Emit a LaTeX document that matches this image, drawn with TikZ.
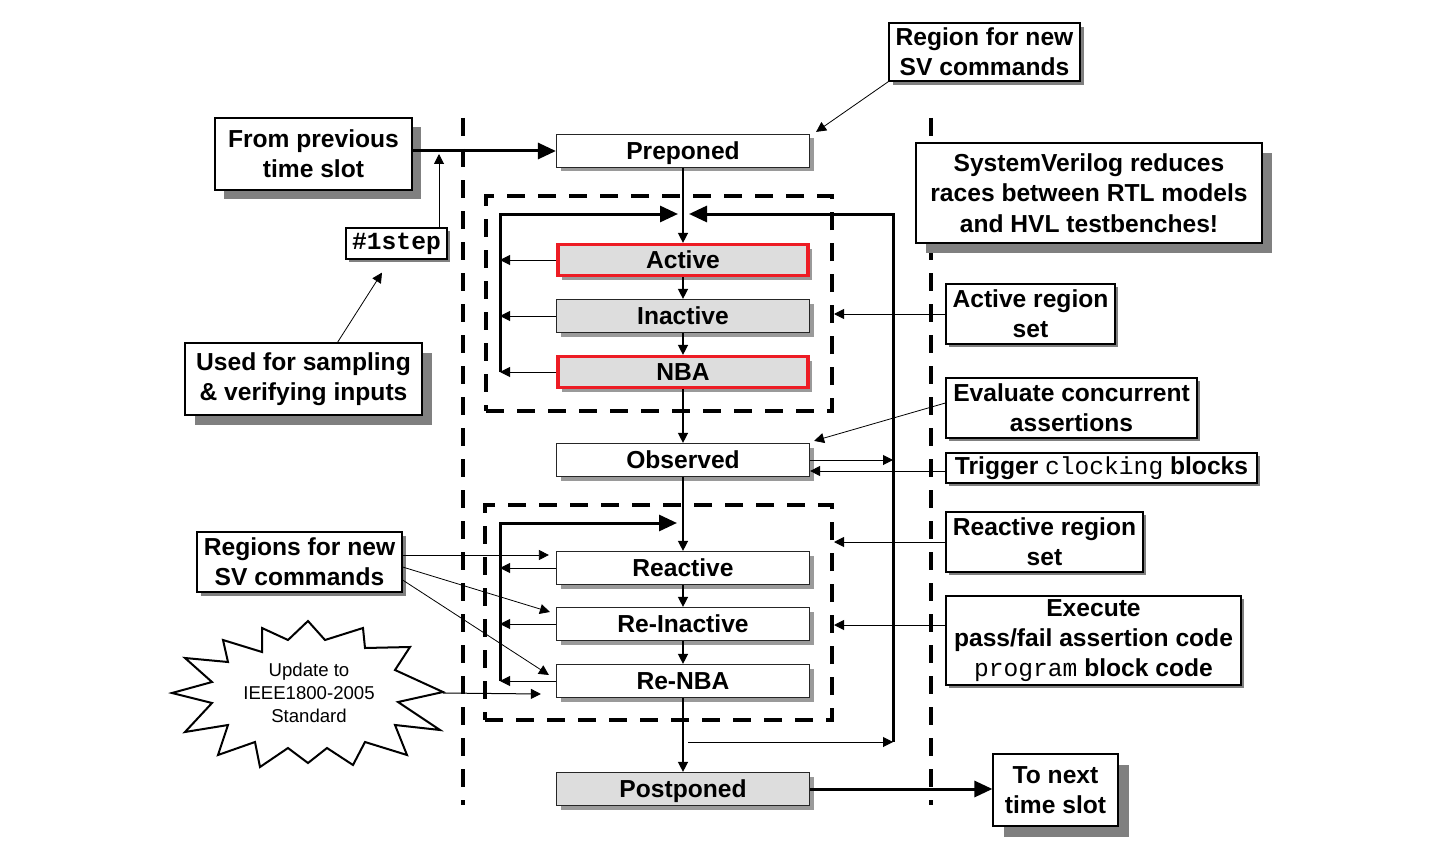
\documentclass[tikz,border=0pt]{standalone}
\usepackage{fontspec}
\setmainfont{Liberation Sans}
\setmonofont{Liberation Mono}
\usetikzlibrary{arrows.meta,shadows,calc}
\definecolor{boxred}{HTML}{ED1C24}
\definecolor{boxgray}{HTML}{DDDDDD}
\definecolor{shdark}{HTML}{808080}
\definecolor{shlight}{HTML}{9A9A9A}
\begin{document}
\begin{tikzpicture}[x=0.5pt,y=-0.5pt,
  font=\fontsize{12.3}{15.2}\selectfont\bfseries,
  sh/.style={drop shadow={shadow xshift=#1,shadow yshift=-#1,fill=shdark,opacity=1}},
  shm/.style={drop shadow={shadow xshift=2pt,shadow yshift=-2pt,fill=shlight,opacity=1}},
  mainbox/.style={draw=black!85, line width=0.6pt, minimum width=126.5pt, minimum height=16.5pt, inner sep=0pt, text depth=0pt, shm},
  mainw/.style={mainbox, fill=white},
  maing/.style={mainbox, fill=boxgray},
  mainr/.style={mainbox, fill=boxgray, draw=boxred, line width=1.6pt, minimum width=125pt, minimum height=15.5pt},
  note/.style={draw=black, line width=0.6pt, fill=white, inner sep=0pt, align=center},
  bigdash/.style={line width=2pt, dash pattern=on 9pt off 6.5pt},
  flow/.style={line width=0.7pt, -{Triangle[length=5pt,width=5pt]}},
  thinarrow/.style={line width=0.5pt, -{Triangle[length=5pt,width=5pt]}},
  hair/.style={line width=0.4pt, -{Triangle[length=5pt,width=5pt]}},
  big/.style={line width=1.5pt, -{Triangle[length=9pt,width=8pt]}}
]
\useasboundingbox (0,0) rectangle (1446,856);

% outer dashed time-slot lines
\draw[bigdash] (463,118) -- (463,805);
\draw[bigdash] (931,118) -- (931,805);

% inner dashed region sets
\node[draw, bigdash, minimum width=173pt, minimum height=107.5pt, inner sep=0pt] (ar) at (659,303.5) {};
\node[draw, bigdash, minimum width=173.5pt, minimum height=107.5pt, inner sep=0pt] (rr) at (658.5,612.5) {};

% main region boxes
\node[mainw] (pre) at (683,151) {Preponed};
\node[mainr] (act) at (683,260) {Active};
\node[maing] (inact) at (683,316) {Inactive};
\node[mainr] (nba) at (683,372) {NBA};
\node[mainw] (obs) at (683,460) {Observed};
\node[mainw] (react) at (683,568) {Reactive};
\node[mainw] (reinact) at (683,624) {Re-Inactive};
\node[mainw] (renba) at (683,681) {Re-NBA};
\node[maing] (post) at (683,789) {Postponed};

% comment boxes
\node[note, minimum width=98.5pt, minimum height=36pt, sh=4.5pt] (from) at (313.5,154) {From previous\\time slot};
\node[note, minimum width=50.5pt, minimum height=15.5pt, sh=1.5pt] (step) at (396.5,243.5) {\ttfamily\#1step};
\node[note, minimum width=118.5pt, minimum height=36pt, sh=5pt] (used) at (303.5,379) {Used for sampling\\\&\ verifying inputs};
\node[note, minimum width=95.5pt, minimum height=29pt, sh=2pt] (regtop) at (984.5,52) {Region for new\\SV commands};
\node[note, minimum width=173pt, minimum height=50pt, sh=5pt] (sysv) at (1089,193) {SystemVerilog reduces\\races between RTL models\\and HVL testbenches!};
\node[note, minimum width=84.5pt, minimum height=30pt, sh=1.5pt] (actset) at (1030.5,314) {Active region\\set};
\node[note, minimum width=125.5pt, minimum height=30pt, sh=1.5pt] (eval) at (1071.5,408) {Evaluate concurrent\\assertions};
\node[note, minimum width=155.5pt, minimum height=15pt, sh=1.5pt] (trig) at (1101.5,468) {Trigger {\mdseries\ttfamily clocking} blocks};
\node[note, minimum width=98.5pt, minimum height=30pt, sh=1.5pt] (reactset) at (1044.5,542) {Reactive region\\set};
\node[note, minimum width=147.5pt, minimum height=44.5pt, sh=1.5pt] (exec) at (1093.5,640.5) {Execute\\pass/fail assertion code\\{\mdseries\ttfamily program} block code};
\node[note, minimum width=102.5pt, minimum height=30pt, sh=2pt] (regs) at (299.5,562) {Regions for new\\SV commands};
\node[note, minimum width=62.5pt, minimum height=36pt, sh=5.5pt] (next) at (1055.5,790) {To next\\time slot};

% starburst
\draw[line width=1pt, fill=white, line join=miter]
  (308,621) -- (325,640) -- (363,628) -- (365,648) -- (410,647) -- (395,670)
  -- (443,692) -- (398,702) -- (440,730) -- (395,725) -- (407,755) -- (365,742)
  -- (353,765) -- (327,748) -- (308,763) -- (288,748) -- (260,767) -- (255,742)
  -- (218,755) -- (228,725) -- (185,732) -- (212,703) -- (172,693) -- (212,682)
  -- (185,658) -- (228,662) -- (223,640) -- (262,652) -- (262,628) -- (288,640) -- cycle;
\node[align=center, font=\fontsize{9.3}{11.5}\selectfont\mdseries] (star) at (309,693) {Update to\\IEEE1800-2005\\Standard};
\coordinate (stare) at (443,693);

% main flow
\draw[flow] (pre) -- (act);
\draw[flow] (act) -- (inact);
\draw[flow] (inact) -- (nba);
\draw[flow] (nba) -- (obs);
\draw[flow] (obs) -- (react);
\draw[flow] (react) -- (reinact);
\draw[flow] (reinact) -- (renba);
\draw[flow] (renba) -- (post);

% left loops
\coordinate (lx) at (500,0);
\coordinate (l1top) at (678,214);
\coordinate (l2top) at (677,523);
\foreach \b in {act,inact,nba,react,reinact,renba}
  \draw[thinarrow] (\b.west) -- (\b.west -| lx);
\draw[big] (nba.west -| lx) -- (lx |- l1top) -- (l1top);
\draw[big] (renba.west -| lx) -- (lx |- l2top) -- (l2top);

% right loop
\coordinate (rtop) at (689,214);
\coordinate (rbot) at (893,742);
\coordinate (rstart) at (688,742);
\draw[thinarrow] (rstart) -- (rbot);
\draw[big] (rbot) -- (rbot |- rtop) -- (rtop);
\draw[thinarrow] (obs.east) -- (obs.east -| rbot);

% time slot in / out
\draw[big] (from.east |- pre.west) -- (pre.west);
\draw[big] (post.east) -- (post.east -| next.west);
\coordinate (j1) at (439,154);
\draw[thinarrow] (step.north -| j1) -- (j1);
\draw[hair] ([xshift=17pt]used.north) -- ([xshift=-7.25pt,yshift=-6.5pt]step.south);
\draw[hair] (regtop.south west) -- ([xshift=3pt,yshift=1pt]pre.north east);

% right-side annotations
\draw[thinarrow] (actset.west) -- (actset.west -| ar.east);
\draw[hair] ([yshift=2.5pt]eval.west) -- ([xshift=2pt,yshift=1pt]obs.north east);
\draw[thinarrow] ([yshift=-1.5pt]trig.west) -- ([yshift=-1.5pt]trig.west -| obs.east);
\draw[thinarrow] (reactset.west) -- (reactset.west -| rr.east);
\draw[thinarrow] ([yshift=7.75pt]exec.west) -- ([yshift=7.75pt]exec.west -| rr.east);

% left-side annotations
\draw[hair] ([yshift=3.5pt]regs.east) -- ([xshift=-3.5pt,yshift=6.5pt]react.west);
\draw[hair] ([yshift=-2.5pt]regs.east) -- ([xshift=-3pt,yshift=6pt]reinact.west);
\draw[hair] ([yshift=-9pt]regs.east) -- ([xshift=-3.5pt,yshift=3pt]renba.west);
\draw[thinarrow] (stare) -- ([xshift=-7.5pt,yshift=-6.5pt]renba.west);
\end{tikzpicture}
\end{document}
